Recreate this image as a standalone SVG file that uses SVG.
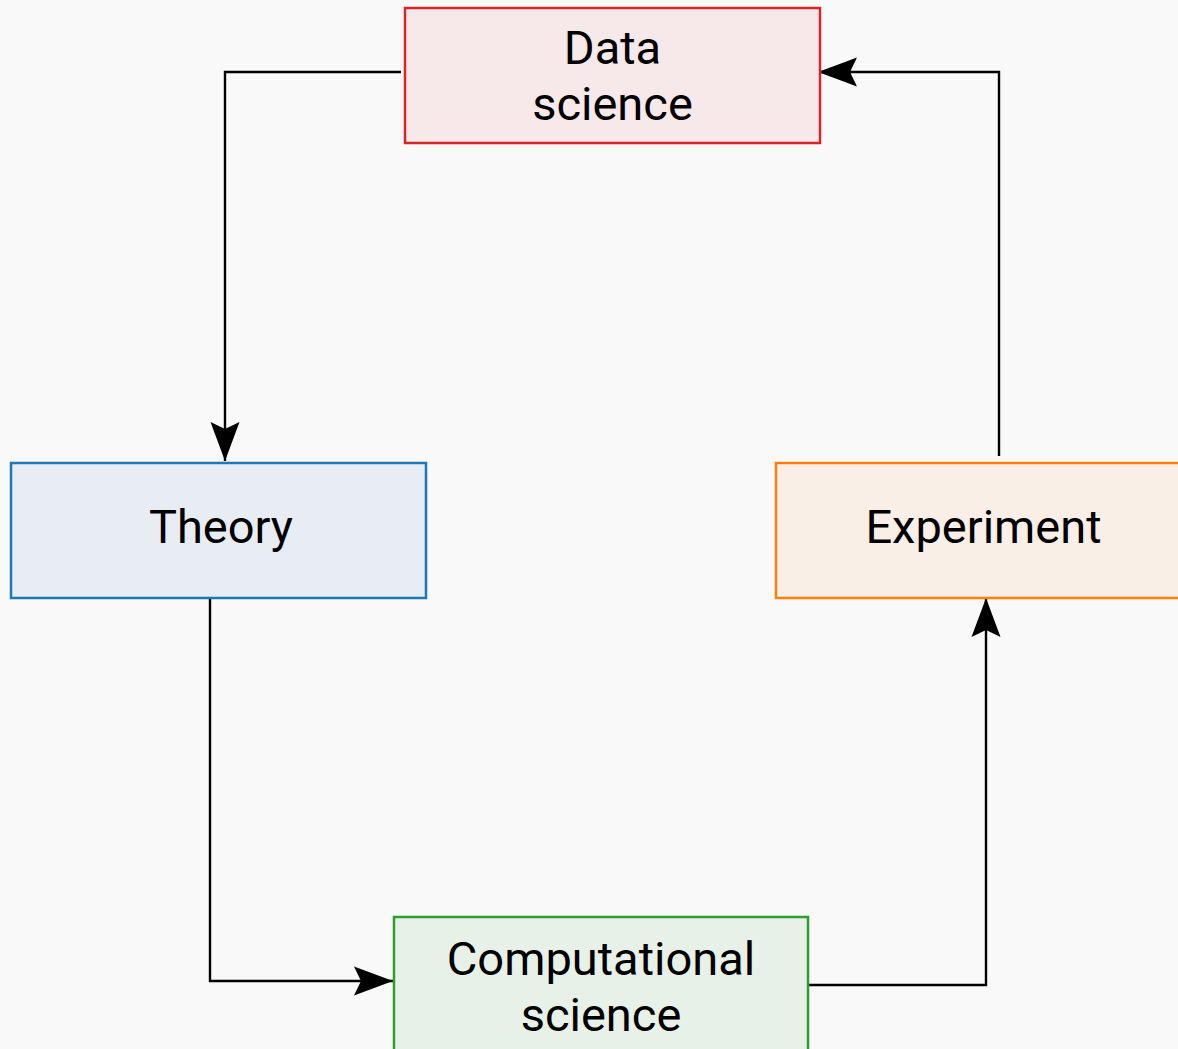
<svg xmlns="http://www.w3.org/2000/svg" width="1178" height="1049" viewBox="0 0 1178 1049">
<defs>
<style>
.box{stroke-width:2.5}
.lbl{font-family:Roboto,"Liberation Sans",sans-serif;font-size:47px;fill:#000;text-anchor:middle}
.edge{fill:none;stroke:#000;stroke-width:2.4}
</style>
<marker id="ah" markerUnits="userSpaceOnUse" markerWidth="44" markerHeight="34" viewBox="-40 -17 44 34" refX="0" refY="0" orient="auto">
<path d="M0,0 L-39,-14.5 L-32,0 L-39,14.5 Z" fill="#000"/>
</marker>
</defs>
<rect width="1178" height="1049" fill="#f9f9f9"/>
<g id="connectors">
<path class="edge" d="M401,72 H225 V461" marker-end="url(#ah)"/>
<path class="edge" d="M210,598 V981 H393" marker-end="url(#ah)"/>
<path class="edge" d="M808,985 H986 V598" marker-end="url(#ah)"/>
<path class="edge" d="M999,456 V72 H818" marker-end="url(#ah)"/>
</g>
<g id="data-science">
<rect class="box" x="405" y="8" width="415" height="135" fill="#f7e8e9" stroke="#d62728"/>
<text class="lbl" x="612.5" y="64">Data</text>
<text class="lbl" x="612.5" y="120">science</text>
</g>
<g id="theory">
<rect class="box" x="11" y="463" width="415" height="135" fill="#e8edf4" stroke="#1f77b4"/>
<text class="lbl" x="221" y="543">Theory</text>
</g>
<g id="experiment">
<rect class="box" x="776" y="463" width="415" height="135" fill="#f9efe7" stroke="#ff7f0e"/>
<text class="lbl" x="983.5" y="543">Experiment</text>
</g>
<g id="computational-science">
<rect class="box" x="394" y="917" width="414" height="135" fill="#e8f1e8" stroke="#2ca02c"/>
<text class="lbl" x="601" y="975">Computational</text>
<text class="lbl" x="601" y="1031">science</text>
</g>
</svg>
